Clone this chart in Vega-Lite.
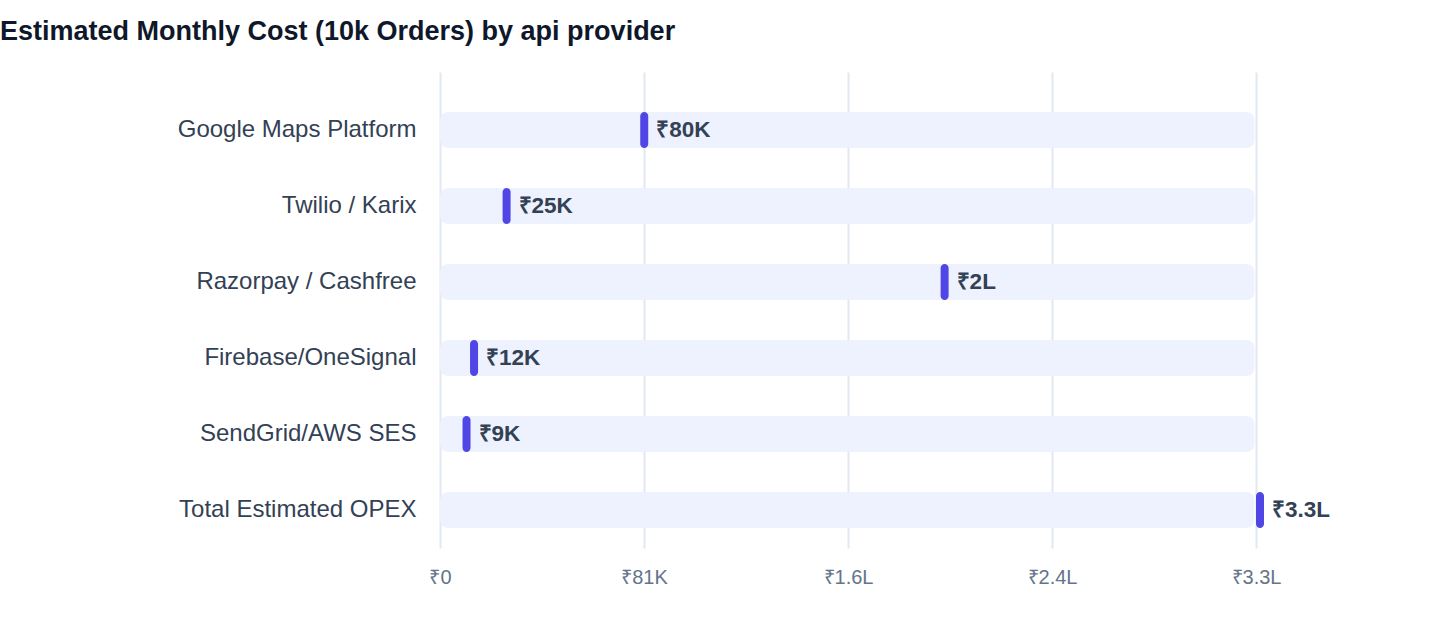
{
  "$schema": "https://vega.github.io/schema/vega-lite/v6.json",
  "autosize": {"type": "none"},
  "padding": {"left": 440, "top": 72, "right": 184, "bottom": 88},
  "width": 816,
  "height": 476,
  "background": "white",
  "title": {
    "text": "Estimated Monthly Cost (10k Orders) by api provider",
    "anchor": "start",
    "frame": "group",
    "dx": -440,
    "offset": 26,
    "font": "Liberation Sans",
    "fontSize": 27,
    "fontWeight": "bold",
    "color": "#0f172a"
  },
  "data": {
    "values": [
      {"provider": "Google Maps Platform", "cost": 80000, "label": "₹80K"},
      {"provider": "Twilio / Karix", "cost": 25000, "label": "₹25K"},
      {"provider": "Razorpay / Cashfree", "cost": 200000, "label": "₹2L"},
      {"provider": "Firebase/OneSignal", "cost": 12000, "label": "₹12K"},
      {"provider": "SendGrid/AWS SES", "cost": 9000, "label": "₹9K"},
      {"provider": "Total Estimated OPEX", "cost": 326000, "label": "₹3.3L"}
    ]
  },
  "encoding": {
    "y": {
      "field": "provider",
      "type": "nominal",
      "sort": null,
      "title": null,
      "scale": {"paddingInner": 0, "paddingOuter": 0.1316, "align": 1},
      "axis": {
        "domain": false,
        "ticks": false,
        "grid": false,
        "labelPadding": 24,
        "labelLimit": 400,
        "labelFontSize": 24,
        "labelColor": "#334155",
        "labelFont": "Liberation Sans"
      }
    }
  },
  "layer": [
    {
      "mark": {"type": "bar", "color": "#eef2ff", "cornerRadius": 8, "size": 36},
      "encoding": {
        "x": {
          "datum": 0,
          "type": "quantitative",
          "scale": {"domain": [0, 326000], "nice": false},
          "title": null,
          "axis": {
            "values": [0, 81500, 163000, 244500, 326000],
            "labelExpr": "datum.value == 0 ? '₹0' : datum.value < 100000 ? '₹' + floor(datum.value / 1000) + 'K' : '₹' + format(datum.value / 100000, '.1f') + 'L'",
            "labelFlush": false,
            "domain": false,
            "ticks": false,
            "grid": true,
            "gridColor": "#e2e8f0",
            "gridWidth": 2,
            "labelPadding": 19,
            "labelFontSize": 20,
            "labelColor": "#64748b",
            "labelFont": "Liberation Sans"
          }
        },
        "x2": {"datum": 325400}
      }
    },
    {
      "mark": {"type": "tick", "color": "#4f46e5", "thickness": 8, "size": 36, "cornerRadius": 4, "xOffset": 4, "opacity": 1},
      "encoding": {
        "x": {"field": "cost", "type": "quantitative", "title": null}
      }
    },
    {
      "mark": {"type": "text", "align": "left", "baseline": "middle", "dx": 16, "fontSize": 22.5, "fontWeight": "bold", "color": "#334155", "font": "Liberation Sans"},
      "encoding": {
        "x": {"field": "cost", "type": "quantitative", "title": null},
        "text": {"field": "label"}
      }
    }
  ],
  "config": {
    "view": {"stroke": null}
  }
}
